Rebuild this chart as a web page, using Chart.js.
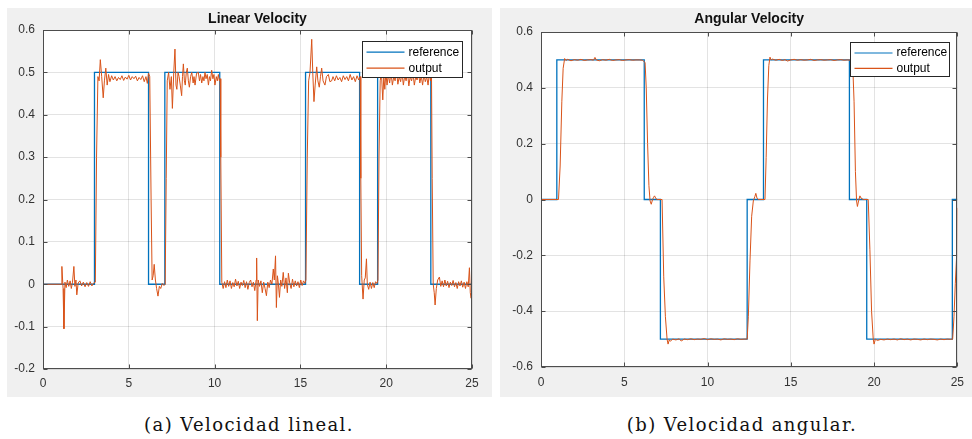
<!DOCTYPE html>
<html>
<head>
<meta charset="utf-8">
<script src="https://cdn.jsdelivr.net/npm/chart.js@4.4.1/dist/chart.umd.min.js"></script>
<style>
  body{margin:0;background:#fff;width:972px;height:439px;overflow:hidden;position:relative;}
  .panel{position:absolute;top:8px;height:389px;background:#f0f0f0;overflow:hidden;}
  .panel canvas{position:absolute;left:0;top:0;}
  .caption{position:absolute;top:413px;line-height:24px;font-family:"DejaVu Serif",serif;font-size:18px;letter-spacing:1.4px;color:#111;white-space:nowrap;transform:translateX(-50%);}
</style>
</head>
<body>
<div class="panel" style="left:7px;width:485px;"><canvas id="linChart" width="485" height="389"></canvas></div>
<div class="panel" style="left:500px;width:472px;"><canvas id="angChart" width="472" height="389"></canvas></div>
<div class="caption" style="left:249px;">(a) Velocidad lineal.</div>
<div class="caption" style="left:742px;">(b) Velocidad angular.</div>
<script>
//---------- data ----------
const xTicks = [0, 5, 10, 15, 20, 25];
const linYTicks = [-0.2, -0.1, 0, 0.1, 0.2, 0.3, 0.4, 0.5, 0.6];
const angYTicks = [-0.6, -0.4, -0.2, 0, 0.2, 0.4, 0.6];

// linear velocity: reference steps (value changes at each time)
const linRefTime  = [0, 3.0, 6.15, 7.1, 10.3, 15.3, 18.45, 19.5, 22.6, 25];
const linRefValue = [0, 0.5, 0,    0.5, 0,    0.5,  0,     0.5,  0,    0];

// linear velocity: measured output
const linOutTime = [
  0, 1.05, 1.1, 1.17, 1.22, 1.28, 1.35, 1.42, 1.5, 1.58, 1.65, 1.72, 1.8, 1.86, 1.92, 1.97,
  2.05, 2.15, 2.25, 2.35, 2.45, 2.55, 2.65, 2.75, 2.85, 2.95, 3.05, 3.12, 3.2, 3.27, 3.34, 3.42,
  3.51, 3.58, 3.66, 3.74, 3.82, 3.9, 4.0, 4.1, 4.2, 4.3, 4.4, 4.5, 4.6, 4.7, 4.8, 4.9,
  5.0, 5.1, 5.2, 5.3, 5.4, 5.5, 5.6, 5.7, 5.8, 5.9, 6.0, 6.08, 6.15, 6.22, 6.3, 6.36,
  6.42, 6.48, 6.55, 6.62, 6.7, 6.78, 6.86, 6.95, 7.05, 7.12, 7.18, 7.24, 7.32, 7.4, 7.48, 7.54,
  7.62, 7.69, 7.75, 7.8, 7.87, 7.93, 8.0, 8.08, 8.13, 8.18, 8.24, 8.29, 8.35, 8.41, 8.47, 8.53,
  8.6, 8.67, 8.75, 8.8, 8.86, 8.95, 9.05, 9.12, 9.18, 9.25, 9.32, 9.38, 9.44, 9.5, 9.57, 9.64,
  9.7, 9.76, 9.83, 9.9, 9.96, 10.02, 10.1, 10.16, 10.22, 10.28, 10.32, 10.36, 10.42, 10.5, 10.58, 10.66,
  10.74, 10.82, 10.9, 10.98, 11.06, 11.14, 11.22, 11.3, 11.38, 11.46, 11.54, 11.62, 11.7, 11.78, 11.86, 11.94,
  12.02, 12.1, 12.18, 12.26, 12.34, 12.42, 12.45, 12.49, 12.54, 12.62, 12.7, 12.78, 12.86, 12.94, 13.02, 13.1,
  13.18, 13.26, 13.34, 13.42, 13.48, 13.55, 13.6, 13.66, 13.72, 13.78, 13.85, 13.92, 14.0, 14.08, 14.16, 14.24,
  14.3, 14.38, 14.46, 14.54, 14.62, 14.7, 14.78, 14.86, 14.94, 15.02, 15.1, 15.18, 15.26, 15.32, 15.4, 15.48,
  15.56, 15.66, 15.72, 15.79, 15.86, 15.95, 16.02, 16.1, 16.17, 16.24, 16.32, 16.43, 16.52, 16.63, 16.72, 16.82,
  16.9, 17.0, 17.1, 17.2, 17.3, 17.4, 17.5, 17.6, 17.7, 17.8, 17.9, 18.0, 18.1, 18.2, 18.3, 18.4,
  18.48, 18.52, 18.57, 18.65, 18.72, 18.78, 18.85, 18.9, 18.98, 19.06, 19.14, 19.22, 19.3, 19.38, 19.46, 19.52,
  19.58, 19.65, 19.72, 19.8, 19.86, 19.92, 19.98, 20.05, 20.12, 20.2, 20.28, 20.36, 20.44, 20.52, 20.6, 20.68,
  20.76, 20.84, 20.92, 21.0, 21.08, 21.16, 21.24, 21.32, 21.4, 21.48, 21.56, 21.64, 21.72, 21.8, 21.88, 21.96,
  22.04, 22.12, 22.2, 22.28, 22.36, 22.44, 22.52, 22.58, 22.64, 22.68, 22.74, 22.8, 22.85, 22.92, 23.0, 23.1,
  23.18, 23.26, 23.34, 23.42, 23.5, 23.58, 23.66, 23.74, 23.82, 23.9, 23.98, 24.06, 24.14, 24.22, 24.3, 24.38,
  24.46, 24.54, 24.62, 24.7, 24.78, 24.85, 24.9, 24.95, 25.0
];
const linOutValue = [
  0, 0, 0.042, -0.01, -0.105, 0.005, -0.008, 0.01, -0.005, 0.008, -0.01, 0.005, 0.042, -0.005, 0.01, -0.025,
  0.003, 0.008, -0.004, 0.005, -0.006, 0.004, -0.005, 0.006, -0.004, 0.003, 0.005, 0.3, 0.49, 0.48, 0.53, 0.49,
  0.44, 0.48, 0.51, 0.47, 0.495, 0.478, 0.492, 0.482, 0.49, 0.48, 0.488, 0.483, 0.492, 0.481, 0.489, 0.484,
  0.493, 0.482, 0.49, 0.485, 0.491, 0.48, 0.488, 0.483, 0.492, 0.478, 0.49, 0.474, 0.498, 0.49, 0.2, 0.01,
  0.02, 0.047, 0.01, -0.01, -0.028, -0.005, -0.01, 0.002, -0.003, 0, 0.25, 0.48, 0.5, 0.46, 0.49, 0.415,
  0.5, 0.555, 0.47, 0.46, 0.5, 0.49, 0.47, 0.445, 0.49, 0.52, 0.48, 0.47, 0.5, 0.51, 0.48, 0.465,
  0.49, 0.5, 0.475, 0.49, 0.47, 0.498, 0.5, 0.48, 0.495, 0.475, 0.49, 0.48, 0.5, 0.485, 0.495, 0.47,
  0.49, 0.48, 0.505, 0.485, 0.495, 0.47, 0.49, 0.48, 0.495, 0.48, 0.485, 0.3, 0.005, -0.01, 0.006, -0.008,
  0.01, -0.005, 0.008, -0.01, 0.004, -0.006, 0.012, -0.004, 0.007, -0.01, 0.005, -0.003, 0.009, -0.008, 0.006, -0.012,
  0.004, 0.01, -0.006, 0.005, -0.015, 0.01, 0.062, -0.086, 0.01, -0.005, 0.008, -0.02, 0.005, -0.01, -0.027, 0.005,
  -0.008, 0.01, 0, 0.036, 0.01, 0.067, -0.055, 0.02, 0, -0.031, 0.01, -0.005, 0.028, -0.01, 0.015, -0.02,
  0.026, 0.002, -0.01, 0.012, -0.006, 0.008, -0.004, 0.006, -0.008, 0.01, -0.003, 0.008, 0.002, 0.01, 0.3, 0.48,
  0.5, 0.578, 0.5, 0.431, 0.47, 0.513, 0.48, 0.465, 0.49, 0.51, 0.48, 0.47, 0.49, 0.495, 0.478, 0.48,
  0.49, 0.48, 0.492, 0.482, 0.488, 0.478, 0.492, 0.483, 0.49, 0.48, 0.495, 0.482, 0.49, 0.478, 0.492, 0.482,
  0.49, 0.25, 0.02, -0.035, 0.01, 0.015, 0.06, 0, -0.012, 0.005, -0.01, 0.004, -0.008, 0.006, 0.002, 0.01,
  0.3, 0.48, 0.5, 0.435, 0.49, 0.46, 0.5, 0.47, 0.495, 0.475, 0.5, 0.47, 0.49, 0.48, 0.505, 0.472,
  0.49, 0.478, 0.5, 0.47, 0.492, 0.48, 0.5, 0.468, 0.49, 0.48, 0.498, 0.47, 0.49, 0.482, 0.5, 0.475,
  0.492, 0.47, 0.495, 0.478, 0.49, 0.47, 0.5, 0.48, 0.49, 0.25, 0, -0.02, -0.049, -0.01, 0.01, 0.017,
  -0.005, 0.008, -0.006, 0.01, -0.004, 0.007, -0.008, 0.005, -0.003, 0.009, -0.006, 0.004, -0.01, 0.006, -0.004, 0.008,
  -0.007, 0.005, -0.01, 0.006, -0.006, 0.039, -0.02, -0.033, -0.005
];

// angular velocity: reference steps
const angRefTime  = [0, 0.95, 6.2, 7.17, 12.38, 13.36, 18.52, 19.56, 24.7, 25];
const angRefValue = [0, 0.5,  0,   -0.5, 0,     0.5,   0,     -0.5,  0,    0];

// angular velocity: measured output
const angOutTime = [
  0, 1.05, 1.15, 1.25, 1.33, 1.42, 1.5, 1.6, 1.8, 2.0, 2.2, 2.4, 2.6, 2.8, 3.0, 3.15,
  3.24, 3.32, 3.5, 3.7, 3.9, 4.1, 4.3, 4.5, 4.7, 4.9, 5.1, 5.3, 5.5, 5.7, 5.9, 6.1,
  6.25, 6.32, 6.4, 6.48, 6.55, 6.62, 6.7, 6.76, 6.82, 6.9, 6.98, 7.27, 7.37, 7.47, 7.57, 7.63,
  7.7, 7.77, 7.9, 8.1, 8.3, 8.42, 8.6, 8.8, 9.0, 9.2, 9.4, 9.6, 9.8, 10.0, 10.2, 10.4,
  10.6, 10.8, 11.0, 11.2, 11.4, 11.6, 11.8, 12.0, 12.2, 12.38, 12.45, 12.55, 12.65, 12.75, 12.84, 12.9,
  12.97, 13.05, 13.45, 13.52, 13.6, 13.68, 13.75, 13.82, 13.9, 14.1, 14.3, 14.5, 14.65, 14.8, 15.0, 15.2,
  15.4, 15.6, 15.8, 16.0, 16.2, 16.4, 16.6, 16.8, 17.0, 17.2, 17.4, 17.6, 17.8, 18.0, 18.2, 18.4,
  18.6, 18.72, 18.8, 18.88, 18.95, 19.0, 19.07, 19.15, 19.22, 19.35, 19.65, 19.75, 19.85, 19.95, 20.0, 20.08,
  20.2, 20.4, 20.6, 20.8, 21.0, 21.2, 21.4, 21.6, 21.8, 22.0, 22.2, 22.4, 22.6, 22.8, 23.0, 23.2,
  23.4, 23.6, 23.8, 24.0, 24.2, 24.4, 24.6, 24.72, 24.8, 24.88, 24.96, 25.0
];
const angOutValue = [
  0, 0, 0.12, 0.35, 0.47, 0.505, 0.498, 0.502, 0.497, 0.501, 0.499, 0.502, 0.498, 0.5, 0.501, 0.499,
  0.509, 0.5, 0.497, 0.501, 0.499, 0.502, 0.498, 0.5, 0.501, 0.498, 0.5, 0.501, 0.499, 0.5, 0.5, 0.499,
  0.49, 0.4, 0.2, 0.05, -0.005, -0.017, 0, 0.008, 0.013, 0.003, 0, 0, -0.277, -0.42, -0.5, -0.518,
  -0.503, -0.508, -0.5, -0.503, -0.499, -0.507, -0.5, -0.502, -0.499, -0.502, -0.5, -0.501, -0.498, -0.502, -0.499, -0.501,
  -0.5, -0.503, -0.499, -0.501, -0.5, -0.502, -0.499, -0.501, -0.5, -0.5, -0.42, -0.22, -0.06, -0.005, 0.01, 0.022,
  0.005, 0, 0, 0.15, 0.36, 0.48, 0.51, 0.5, 0.503, 0.499, 0.502, 0.498, 0.501, 0.496, 0.5, 0.502,
  0.499, 0.501, 0.499, 0.5, 0.502, 0.498, 0.5, 0.501, 0.499, 0.5, 0.501, 0.498, 0.5, 0.501, 0.499, 0.5,
  0.499, 0.48, 0.35, 0.1, -0.005, -0.025, -0.005, 0.013, 0.005, 0, 0, -0.18, -0.4, -0.5, -0.518, -0.5,
  -0.505, -0.501, -0.503, -0.5, -0.502, -0.5, -0.503, -0.499, -0.502, -0.5, -0.503, -0.5, -0.501, -0.503, -0.5, -0.502,
  -0.5, -0.501, -0.503, -0.5, -0.502, -0.5, -0.501, -0.5, -0.42, -0.3, -0.2, -0.03
];

const seriesLabels = ['reference', 'output'];
const refColor = '#0072BD';
const outColor = '#D95319';

//---------- matlab look: white axes, box, inward ticks, legend ----------
const matlabAxes = {
  id: 'matlabAxes',
  beforeDraw(chart) {
    const a = chart.chartArea, ctx = chart.ctx;
    ctx.save();
    ctx.fillStyle = '#fff';
    ctx.fillRect(a.left, a.top, a.right - a.left, a.bottom - a.top);
    ctx.restore();
  },
  afterDraw(chart, args, opts) {
    const a = chart.chartArea, ctx = chart.ctx;
    const xs = chart.scales.x, ys = chart.scales.y;
    const L = Math.round(a.left) + 0.5, R = Math.round(a.right) - 0.5;
    const T = Math.round(a.top) + 0.5, B = Math.round(a.bottom) - 0.5;
    ctx.save();
    ctx.strokeStyle = '#4d4d4d';
    ctx.lineWidth = 1;
    ctx.strokeRect(L, T, R - L, B - T);
    // inward tick marks on all four sides
    ctx.beginPath();
    xs.ticks.forEach(t => {
      const px = Math.round(xs.getPixelForValue(t.value)) + 0.5;
      ctx.moveTo(px, B); ctx.lineTo(px, B - 4);
      ctx.moveTo(px, T); ctx.lineTo(px, T + 4);
    });
    ys.ticks.forEach(t => {
      const py = Math.round(ys.getPixelForValue(t.value)) + 0.5;
      ctx.moveTo(L, py); ctx.lineTo(L + 4, py);
      ctx.moveTo(R, py); ctx.lineTo(R - 4, py);
    });
    ctx.stroke();

    // legend box in the upper right corner
    const bx = Math.round(a.right - opts.right - opts.width) + 0.5;
    const by = Math.round(a.top + opts.top) + 0.5;
    ctx.fillStyle = '#fff';
    ctx.fillRect(bx, by, opts.width, opts.height);
    ctx.strokeStyle = '#262626';
    ctx.strokeRect(bx, by, opts.width, opts.height);
    ctx.font = '12px "Liberation Sans", Arial, sans-serif';
    ctx.textBaseline = 'middle';
    chart.data.datasets.forEach((ds, i) => {
      const ry = by + opts.rows[i];
      ctx.strokeStyle = ds.borderColor;
      ctx.lineWidth = 1.2;
      ctx.beginPath();
      ctx.moveTo(bx + 4, ry); ctx.lineTo(bx + 42, ry);
      ctx.stroke();
      ctx.fillStyle = '#000';
      ctx.fillText(ds.label, bx + 46, ry);
    });
    ctx.restore();
  }
};

function points(times, values) {
  return times.map((t, i) => ({x: t, y: values[i]}));
}

function makeChart(canvasId, cfg) {
  return new Chart(document.getElementById(canvasId), {
    type: 'line',
    data: {
      datasets: [
        {label: seriesLabels[0], data: points(cfg.refTime, cfg.refValue), borderColor: refColor,
         borderWidth: 1.3, stepped: 'before', order: 2},
        {label: seriesLabels[1], data: points(cfg.outTime, cfg.outValue), borderColor: outColor,
         borderWidth: 1, order: 1}
      ]
    },
    options: {
      responsive: false,
      animation: false,
      events: [],
      elements: {point: {radius: 0}, line: {tension: 0}},
      layout: {padding: {left: 0, right: cfg.padRight, top: 0, bottom: 0}},
      plugins: {
        legend: {display: false},
        tooltip: {enabled: false},
        title: {
          display: true, text: cfg.title, fullSize: false, color: '#111',
          font: {family: '"Liberation Sans", Arial, sans-serif', size: 14, weight: 'bold'},
          padding: {top: 3, bottom: cfg.titleBottom}
        },
        matlabAxes: cfg.legend
      },
      scales: {
        x: {
          type: 'linear', min: 0, max: 25,
          afterBuildTicks: s => { s.ticks = xTicks.map(v => ({value: v})); },
          afterFit: s => { s.height = cfg.xAxisHeight; },
          ticks: {padding: cfg.xTickPad, color: '#333', maxRotation: 0,
                  font: {family: '"Liberation Sans", Arial, sans-serif', size: 12},
                  callback: v => String(v)},
          grid: {color: 'rgba(38,38,38,0.13)', drawTicks: false},
          border: {display: false}
        },
        y: {
          type: 'linear', min: cfg.yTicks[0], max: cfg.yTicks[cfg.yTicks.length - 1],
          afterBuildTicks: s => { s.ticks = cfg.yTicks.map(v => ({value: v})); },
          afterFit: s => { s.width = cfg.yAxisWidth; },
          ticks: {padding: 8, color: '#333',
                  font: {family: '"Liberation Sans", Arial, sans-serif', size: 12},
                  callback: v => String(v)},
          grid: {color: 'rgba(38,38,38,0.13)', drawTicks: false},
          border: {display: false}
        }
      }
    },
    plugins: [matlabAxes]
  });
}

//---------- linear velocity ----------
makeChart('linChart', {
  title: 'Linear Velocity',
  refTime: linRefTime, refValue: linRefValue,
  outTime: linOutTime, outValue: linOutValue,
  yTicks: linYTicks,
  padRight: 20, titleBottom: 2.2, xAxisHeight: 28, xTickPad: 7, yAxisWidth: 36,
  legend: {right: 10, top: 11, width: 100, height: 36, rows: [10.7, 26.7]}
});

//---------- angular velocity ----------
makeChart('angChart', {
  title: 'Angular Velocity',
  refTime: angRefTime, refValue: angRefValue,
  outTime: angOutTime, outValue: angOutValue,
  yTicks: angYTicks,
  padRight: 7, titleBottom: 4.2, xAxisHeight: 30, xTickPad: 8, yAxisWidth: 41,
  legend: {right: 8, top: 10, width: 99, height: 34, rows: [10.5, 25.8]}
});
</script>
</body>
</html>
